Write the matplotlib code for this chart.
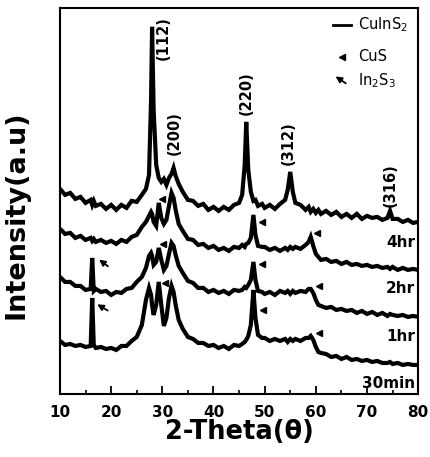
import matplotlib
matplotlib.use("Agg")
import matplotlib.pyplot as plt
from matplotlib.ticker import MultipleLocator

# 2-theta grid (deg), shared by all four patterns
two_theta = [10, 11, 12, 13, 14, 15, 16.0, 16.3, 16.6, 17,
             18, 19, 20, 21, 22, 23, 24, 25, 26,
             26.8, 27.4, 27.8, 28.0, 28.3, 28.8, 29.3, 29.8,
             30.3, 30.8, 31.3, 31.8, 32.2, 32.6, 33.2,
             34, 35, 36, 37, 38, 39, 40, 41, 42, 43, 44, 45,
             45.6, 46.1, 46.4, 46.8, 47.3, 47.8, 48.2, 48.7, 49.5,
             50, 51, 52, 53, 54, 54.5, 55.0, 55.5, 56,
             57, 58, 58.6, 59.0, 59.5, 60.0, 60.5, 61,
             62, 63, 64, 65, 66, 67, 68, 69, 70, 71, 72, 73,
             74, 74.5, 75, 76, 77, 78, 79, 80]

# intensities (a.u.), relative to the 80 deg level
int_4hr = [33, 27, 29, 23, 25, 19, 22, 17, 21, 16,
           18, 13, 17, 12, 17, 14, 21, 20, 27,
           33, 47, 122, 195, 112, 57, 44, 40,
           43, 37, 44, 48, 54, 46, 38,
           30, 22, 21, 16, 18, 12, 15, 11, 15, 12, 17, 19,
           27, 57, 100, 52, 30, 21, 22, 16, 18,
           14, 17, 13, 18, 22, 32, 50, 30, 19,
           17, 12, 15, 10, 13, 9, 12, 8,
           11, 7, 10, 5, 8, 4, 8, 3, 6, 4, 5, 2,
           4, 11, 3, 3, 0, 2, -1, 0]

int_2hr = [41, 36, 37, 32, 34, 30, 32, 29, 31, 28,
           30, 27, 29, 26, 30, 28, 33, 35, 43,
           48, 54, 58, 56, 48, 44, 67, 52,
           46, 50, 64, 77, 72, 60, 46,
           39, 31, 30, 25, 26, 22, 24, 20, 22, 19, 23, 22,
           25, 23, 26, 27, 32, 55, 35, 24, 23,
           23, 20, 22, 19, 22, 20, 23, 21, 23,
           21, 25, 28, 33, 24, 16, 13, 10,
           11, 8, 9, 6, 8, 5, 6, 4, 5, 3, 4, 2,
           3, 1, 3, 0, 2, 0, 1, 0]

int_1hr = [40, 35, 35, 31, 31, 27, 28, 59, 26, 28,
           25, 26, 22, 25, 24, 28, 29, 35, 40,
           49, 61, 64, 61, 52, 55, 69, 57,
           47, 51, 63, 74, 71, 62, 51,
           44, 36, 34, 29, 29, 25, 27, 24, 26, 23, 27, 26,
           27, 30, 29, 32, 37, 55, 37, 26, 25,
           23, 25, 22, 26, 24, 26, 23, 26, 24,
           26, 25, 28, 28, 24, 17, 12, 11,
           9, 10, 7, 8, 6, 7, 4, 6, 3, 5, 2, 4,
           1, 3, 2, 1, 2, 0, 1, 0]

int_30min = [24, 20, 21, 19, 20, 18, 19, 67, 20, 17,
             18, 16, 17, 15, 19, 19, 24, 28, 40,
             65, 77, 70, 60, 50, 60, 83, 60,
             39, 47, 67, 79, 73, 60, 45,
             36, 28, 26, 22, 22, 19, 20, 17, 19, 16, 20, 19,
             21, 23, 25, 29, 40, 75, 47, 30, 27,
             27, 24, 26, 24, 26, 23, 26, 24, 26,
             24, 27, 27, 29, 25, 18, 13, 12,
             11, 8, 9, 6, 8, 5, 6, 4, 5, 3, 4, 2,
             2, 3, 1, 2, 0, 1, 0, 0]

patterns = [int_4hr, int_2hr, int_1hr, int_30min]
labels = ['4hr', '2hr', '1hr', '30min']
offsets = [172, 124, 77, 29]

peak_hkl = ['(112)', '(200)', '(220)', '(312)', '(316)']
peak_pos = [30.1, 32.3, 46.4, 54.6, 74.5]
peak_lbl_y = [334, 239, 279, 229, 187]

# CuS markers and In2S3 arrows
cus_x = [29.95, 30.15, 30.5, 49.5, 49.5, 49.7, 60.25, 60.6, 60.6]
cus_y = [195, 150, 111, 172, 130, 84, 161, 108, 61]
in2s3_tip = [(17.2, 136), (16.8, 91)]
in2s3_tail = [(19.8, 126), (19.8, 82)]

fig = plt.figure(figsize=(4.3, 4.57), dpi=100)
ax = fig.add_axes([0.1395, 0.1379, 0.833, 0.845])

for ints, off in zip(patterns, offsets):
    ax.plot(two_theta, [v + off for v in ints], color='black', lw=3.0,
            solid_joinstyle='miter')

for hkl, xp, yp in zip(peak_hkl, peak_pos, peak_lbl_y):
    ax.text(xp, yp, hkl, rotation=90, ha='center', va='bottom',
            fontsize=10.5, fontweight='bold')

label_y = [151, 105, 57, 10]
for lab, yl in zip(labels, label_y):
    ax.text(79.4, yl, lab, ha='right', va='center', fontsize=11,
            fontweight='bold')

ax.plot(cus_x, cus_y, ls='none', marker='<', color='black', ms=4)
for tip, tail in zip(in2s3_tip, in2s3_tail):
    ax.annotate('', xy=tip, xytext=tail,
                arrowprops=dict(arrowstyle='-|>', color='black', lw=1.3,
                                mutation_scale=9))

# legend drawn by hand
ax.plot([63.4, 66.9], [369, 369], color='black', lw=2)
ax.text(68.3, 369, 'CuInS$_2$', va='center', fontsize=10.5)
ax.plot([65.1], [337], marker='<', color='black', ms=4)
ax.text(68.3, 337, 'CuS', va='center', fontsize=10.5)
ax.annotate('', xy=(63.4, 319), xytext=(66.3, 309),
            arrowprops=dict(arrowstyle='-|>', color='black', lw=1.3,
                            mutation_scale=9))
ax.text(68.3, 313, 'In$_2$S$_3$', va='center', fontsize=10.5)

ax.set_xlim(10, 80)
ax.set_ylim(0, 386)
ax.xaxis.set_major_locator(MultipleLocator(10))
ax.xaxis.set_minor_locator(MultipleLocator(5))
ax.tick_params(axis='x', which='major', direction='in', length=6, width=1.3,
               labelsize=11, pad=8)
ax.tick_params(axis='x', which='minor', direction='in', length=3, width=1.2)
ax.set_yticks([])
for lbl in ax.get_xticklabels():
    lbl.set_fontweight('bold')
for sp in ax.spines.values():
    sp.set_linewidth(1.5)

ax.set_xlabel('2-Theta(θ)', fontsize=18.5, fontweight='bold', labelpad=-1)
ax.set_ylabel('Intensity(a.u)', fontsize=19.5, fontweight='bold')
ax.yaxis.set_label_coords(-0.085, 0.465)

fig.savefig('out.png', dpi=100)
